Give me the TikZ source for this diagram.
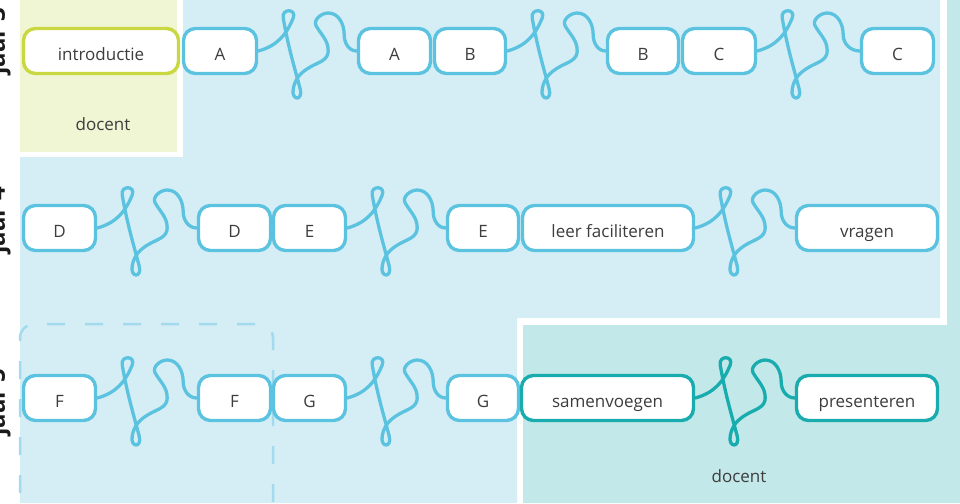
\documentclass[tikz,border=0pt]{standalone}
\usepackage{fontspec}
\setmainfont{Open Sans}
\definecolor{blueline}{HTML}{5BC3E0}
\definecolor{greenline}{HTML}{C9D740}
\definecolor{tealline}{HTML}{19ACAF}
\definecolor{bluebg}{HTML}{D5EEF6}
\definecolor{greenbg}{HTML}{F0F5D3}
\definecolor{tealbg}{HTML}{C3E8E9}
\definecolor{dashcol}{HTML}{A3DAEE}
\definecolor{txt}{HTML}{3D3D3D}
\definecolor{labcol}{HTML}{1A1A1A}
\tikzset{
  box/.style={draw=blueline, line width=3.4pt, rounded corners=12pt, fill=white,
    minimum height=45pt, minimum width=72pt, inner sep=0pt,
    text height=18.5pt, text depth=0.5pt, text=txt,
    font=\fontsize{17}{20}\selectfont},
  tbox/.style={box, draw=tealline},
  gbox/.style={box, draw=greenline},
  squigline/.style={draw=blueline, line width=3.3pt, line cap=round},
  lab/.style={text=txt, inner sep=0pt, font=\fontsize{17}{20}\selectfont},
  rowlab/.style={text=labcol, inner sep=0pt, rotate=90, anchor=base,
    font=\fontsize{24}{28}\selectfont\bfseries},
  dashline/.style={draw=dashcol, line width=2.5pt, dash pattern=on 18pt off 20pt, rounded corners=14pt}
}
\newcommand\squig[3][]{%
  \draw[squigline,#1] (#2.east)
    to[out=15,in=-112] ++(35,33)
    to[out=68,in=100,looseness=2.6] ++(-10,0)
    to[out=-80,in=105] ++(17,-71)
    to[out=-75,in=-100,looseness=4.5] ++(-7,0)
    to[out=80,in=-150] ++(17,22)
    to[out=30,in=-90] ++(18,16)
    to[out=90,in=-60] ++(-12,25)
    to[out=120,in=180] ++(12,13)
    to[out=0,in=90] ++(16,-22)
    to[out=-90,in=180] (#3.west);}
\begin{document}
\begin{tikzpicture}[x=1pt,y=1pt]
\useasboundingbox (0,0) rectangle (960,-503);
% backgrounds
\fill[bluebg] (183,0) -- (940,0) -- (940,-318) -- (517,-318) -- (517,-503)
  -- (20,-503) -- (20,-157) -- (183,-157) -- cycle;
\fill[greenbg] (20,0) rectangle (177,-152);
\fill[tealbg] (947,0) -- (960,0) -- (960,-503) -- (523,-503) -- (523,-325)
  -- (947,-325) -- cycle;
% dashed frame
\draw[dashline, dash phase=18pt] (47,-324) -- (20,-324) -- (20,-520);
\draw[dashline] (47,-324) -- (273,-324) -- (273,-520);
% row labels
\node[rowlab] (j3) at (5,-41) {jaar 3};
\node[rowlab] (j4) at (5,-220) {jaar 4};
\node[rowlab] (j5) at (5,-402) {jaar 5};
% row 1
\node[gbox, minimum width=155pt] (intro) at (101,-51) {introductie};
\node[box, minimum width=73pt] (a1) at (220,-51) {A};
\node[box] (a2) at (394.5,-51) {A};
\node[box, minimum width=71pt] (b1) at (470,-51) {B};
\node[box, minimum width=71pt] (b2) at (643,-51) {B};
\node[box, minimum width=73pt] (c1) at (719,-51) {C};
\node[box] (c2) at (897.5,-51) {C};
\node[lab, anchor=base] (doc1) at (103,-130) {docent};
% row 2
\node[box] (d1) at (59.5,-228) {D};
\node[box] (d2) at (234.5,-228) {D};
\node[box] (e1) at (309.5,-228) {E};
\node[box, minimum width=71pt] (e2) at (483,-228) {E};
\node[box, minimum width=171pt] (leer) at (608,-228) {leer faciliteren};
\node[box, minimum width=141pt] (vragen) at (867,-228) {vragen};
% row 3
\node[box] (f1) at (59.5,-398) {F};
\node[box] (f2) at (234.5,-398) {F};
\node[box] (g1) at (309.5,-398) {G};
\node[box, minimum width=71pt] (g2) at (483,-398) {G};
\node[tbox, minimum width=172pt] (samen) at (607.5,-398) {samenvoegen};
\node[tbox, minimum width=141pt] (pres) at (867,-398) {presenteren};
\node[lab, anchor=base] (doc2) at (739,-482) {docent};
% connectors
\squig{a1}{a2}
\squig{b1}{b2}
\squig{c1}{c2}
\squig{d1}{d2}
\squig{e1}{e2}
\squig{leer}{vragen}
\squig{f1}{f2}
\squig{g1}{g2}
\squig[draw=tealline]{samen}{pres}
\end{tikzpicture}
\end{document}
